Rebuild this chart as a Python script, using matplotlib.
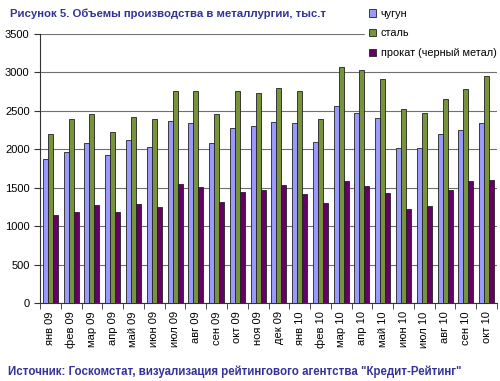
import numpy as np
import matplotlib.pyplot as plt

plt.rcParams['font.family'] = ['Liberation Sans', 'DejaVu Sans']

months = ['янв 09', 'фев 09', 'мар 09', 'апр 09', 'май 09', 'июн 09', 'июл 09',
          'авг 09', 'сен 09', 'окт 09', 'ноя 09', 'дек 09', 'янв 10', 'фев 10',
          'мар 10', 'апр 10', 'май 10', 'июн 10', 'июл 10', 'авг 10', 'сен 10', 'окт 10']
chugun = [1870, 1970, 2080, 1930, 2115, 2030, 2365, 2340, 2080, 2280, 2300,
          2360, 2345, 2095, 2565, 2470, 2405, 2015, 2015, 2195, 2255, 2345]
stal = [2195, 2390, 2460, 2220, 2415, 2395, 2760, 2760, 2460, 2760, 2730,
        2795, 2760, 2390, 3065, 3035, 2920, 2520, 2470, 2650, 2785, 2955]
prokat = [1140, 1180, 1280, 1185, 1285, 1255, 1545, 1505, 1315, 1440, 1475,
          1530, 1420, 1305, 1585, 1525, 1425, 1220, 1260, 1465, 1585, 1605]
series_names = ['чугун', 'сталь', 'прокат (черный метал)']
colors = ['#9999ff', '#77933c', '#660066']

fig = plt.figure(figsize=(5.0, 3.81), dpi=100)
ax = fig.add_axes([0.08, 0.2047, 0.914, 0.7061])

x = np.arange(len(months))
w = 0.24
handles = []
for i, (vals, c) in enumerate(zip([chugun, stal, prokat], colors)):
    b = ax.bar(x + (i - 1) * w, vals, w, color=c, edgecolor='#222222',
               linewidth=0.6, zorder=3)
    handles.append(b)

ax.set_xlim(-0.5, len(months) - 0.5)
ax.set_ylim(0, 3500)
ax.set_yticks(np.arange(0, 3501, 500))
ax.yaxis.grid(True, color='#707070', linewidth=0.8, zorder=0)
ax.set_xticks(x)
ax.set_xticklabels(months, rotation=90, fontsize=8)
ax.set_xticks(np.arange(-0.5, len(months), 1), minor=True)
ax.tick_params(axis='x', which='major', length=0, pad=6)
ax.tick_params(axis='x', which='minor', length=4, color='#333333')
ax.tick_params(axis='y', labelsize=8, length=4, color='#333333')
for s in ['top', 'right']:
    ax.spines[s].set_visible(False)
for s in ['left', 'bottom']:
    ax.spines[s].set_color('#333333')

fig.text(0.02, 0.965, 'Рисунок 5. Объемы производства в металлургии, тыс.т',
         fontsize=8.2, fontweight='bold', color='#333399', va='center')
fig.text(0.016, 0.023, 'Источник: Госкомстат, визуализация рейтингового агентства "Кредит-Рейтинг"',
         fontsize=8.3, fontweight='bold', color='#333399', va='center')

leg = fig.legend(handles, series_names, loc='upper left', bbox_to_anchor=(0.72, 1.0),
                 fontsize=7.8, frameon=True, handlelength=0.7, handleheight=0.7,
                 labelspacing=0.9, handletextpad=0.4, borderpad=0.3)
leg.get_frame().set_edgecolor('white')
leg.get_frame().set_facecolor('white')
leg.get_frame().set_alpha(1)

fig.savefig('out.png', dpi=100)
